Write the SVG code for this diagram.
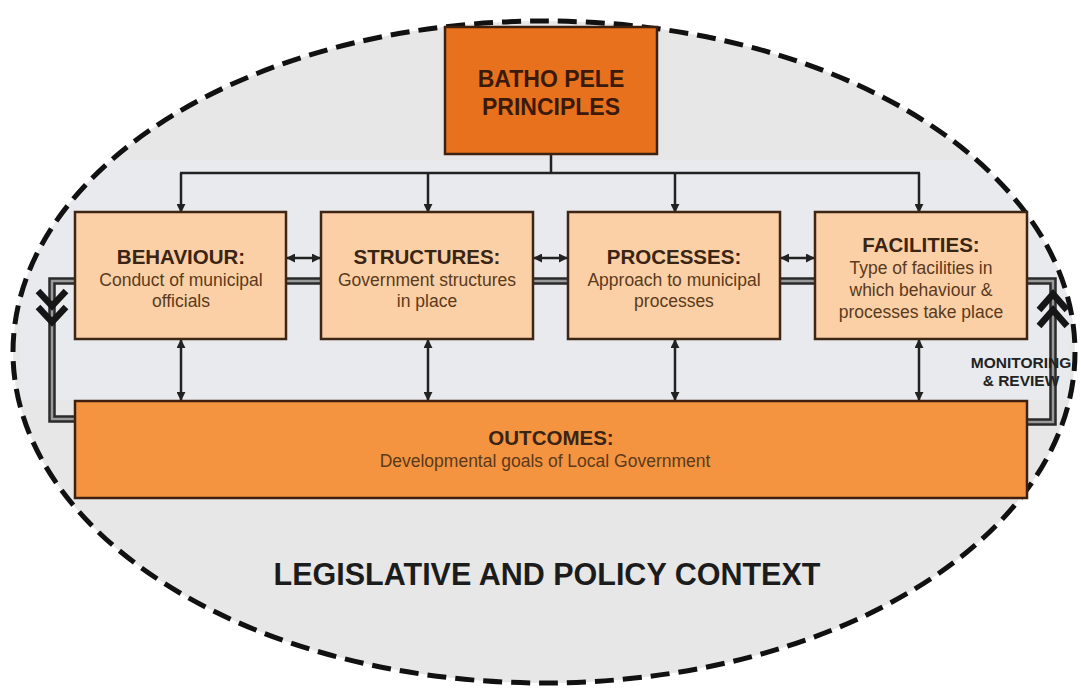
<svg xmlns="http://www.w3.org/2000/svg" width="1081" height="689" viewBox="0 0 1081 689">
  <style>
    text { font-family: "Liberation Sans", Arial, sans-serif; text-anchor: middle; }
    .ttl { font-weight: bold; font-size: 20.5px; fill: #3a2414; }
    .sub { font-size: 17.5px; fill: #5a3a1c; }
    .top { font-weight: bold; font-size: 23px; fill: #3a1a0a; }
    .ctx { font-weight: bold; font-size: 30.5px; fill: #1c1c1c; }
    .mon { font-weight: bold; font-size: 15.5px; fill: #222; }
    .box { fill: #fbd0a6; stroke: #3d2614; stroke-width: 2.5; }
    .dark { fill: #e8711e; stroke: #3d2010; stroke-width: 2.5; }
    .out { fill: #f59440; stroke: #3d2010; stroke-width: 2.5; }
    .thin { fill: none; stroke: #222; stroke-width: 2.5; }
    .dbl-o { fill: none; stroke: #2a2a2a; stroke-width: 7.5; }
    .dbl-i { fill: none; stroke: #9a9a9a; stroke-width: 2.5; }
    .chev { fill: none; stroke: #161616; stroke-width: 6.5; stroke-linejoin: miter; }
  </style>
  <defs>
    <marker id="ah" viewBox="0 0 10 10" refX="9" refY="5" markerWidth="9" markerHeight="9" markerUnits="userSpaceOnUse" orient="auto-start-reverse">
      <path d="M0,0 L10,5 L0,10 Z" fill="#222"/>
    </marker>
    <clipPath id="inside">
      <ellipse cx="544" cy="352" rx="531" ry="331"/>
    </clipPath>
  </defs>

  <!-- page and context ellipse -->
  <rect width="1081" height="689" fill="#ffffff"/>
  <ellipse cx="544" cy="352" rx="531" ry="331" fill="#e7e7e7"/>
  <rect x="20" y="160" width="1050" height="240" fill="#e8eaed" clip-path="url(#inside)"/>
  <ellipse cx="544" cy="352" rx="531" ry="331" fill="none" stroke="#111" stroke-width="5" stroke-dasharray="19 9"/>

  <!-- connectors -->
  <g id="connectors">
    <!-- feedback loop (double line) -->
    <path class="dbl-o" d="M75,419 H52 V281 H1053 V422 H1027"/>
    <path class="dbl-i" d="M75,419 H52 V281 H1053 V422 H1027"/>
    <!-- chevrons on the loop -->
    <path class="chev" d="M38,291 L52,306 L66,291 M38,307 L52,322 L66,307"/>
    <path class="chev" d="M1039,310 L1053,294 L1067,310 M1039,326 L1053,310 L1067,326"/>
    <!-- principles bus -->
    <path class="thin" d="M551,154 V173 M180,173 H920"/>
    <path class="thin" marker-end="url(#ah)" d="M181,173 V212"/>
    <path class="thin" marker-end="url(#ah)" d="M428,173 V212"/>
    <path class="thin" marker-end="url(#ah)" d="M675,173 V212"/>
    <path class="thin" marker-end="url(#ah)" d="M919,173 V212"/>
    <!-- links between neighbouring boxes -->
    <path class="thin" marker-start="url(#ah)" marker-end="url(#ah)" d="M287,258 H320"/>
    <path class="thin" marker-start="url(#ah)" marker-end="url(#ah)" d="M534,258 H567"/>
    <path class="thin" marker-start="url(#ah)" marker-end="url(#ah)" d="M781,258 H814"/>
    <!-- links to outcomes -->
    <path class="thin" marker-start="url(#ah)" marker-end="url(#ah)" d="M181,340 V400"/>
    <path class="thin" marker-start="url(#ah)" marker-end="url(#ah)" d="M428,340 V400"/>
    <path class="thin" marker-start="url(#ah)" marker-end="url(#ah)" d="M675,340 V400"/>
    <path class="thin" marker-start="url(#ah)" marker-end="url(#ah)" d="M919,340 V400"/>
  </g>

  <g id="batho-pele">
    <rect class="dark" x="445" y="27" width="212" height="127"/>
    <text class="top" x="551" y="87">BATHO PELE</text>
    <text class="top" x="551" y="115">PRINCIPLES</text>
  </g>

  <g id="behaviour">
    <rect class="box" x="75" y="212" width="211" height="127"/>
    <text class="ttl" x="181" y="264">BEHAVIOUR:</text>
    <text class="sub" x="181" y="286">Conduct of municipal</text>
    <text class="sub" x="181" y="307">officials</text>
  </g>

  <g id="structures">
    <rect class="box" x="321" y="212" width="212" height="127"/>
    <text class="ttl" x="427" y="264">STRUCTURES:</text>
    <text class="sub" x="427" y="286">Government structures</text>
    <text class="sub" x="427" y="307">in place</text>
  </g>

  <g id="processes">
    <rect class="box" x="568" y="212" width="212" height="127"/>
    <text class="ttl" x="674" y="264">PROCESSES:</text>
    <text class="sub" x="674" y="286">Approach to municipal</text>
    <text class="sub" x="674" y="307">processes</text>
  </g>

  <g id="facilities">
    <rect class="box" x="815" y="212" width="212" height="127"/>
    <text class="ttl" x="921" y="252">FACILITIES:</text>
    <text class="sub" x="921" y="274">Type of facilities in</text>
    <text class="sub" x="921" y="296">which behaviour &amp;</text>
    <text class="sub" x="921" y="318">processes take place</text>
  </g>

  <g id="outcomes">
    <rect class="out" x="75" y="401" width="952" height="97"/>
    <text class="ttl" x="551" y="445">OUTCOMES:</text>
    <text class="sub" x="545" y="467">Developmental goals of Local Government</text>
  </g>

  <g id="monitoring">
    <text class="mon" x="1021" y="368">MONITORING</text>
    <text class="mon" x="1021" y="386">&amp; REVIEW</text>
  </g>

  <g id="context">
    <text class="ctx" x="547" y="585">LEGISLATIVE AND POLICY CONTEXT</text>
  </g>
</svg>
